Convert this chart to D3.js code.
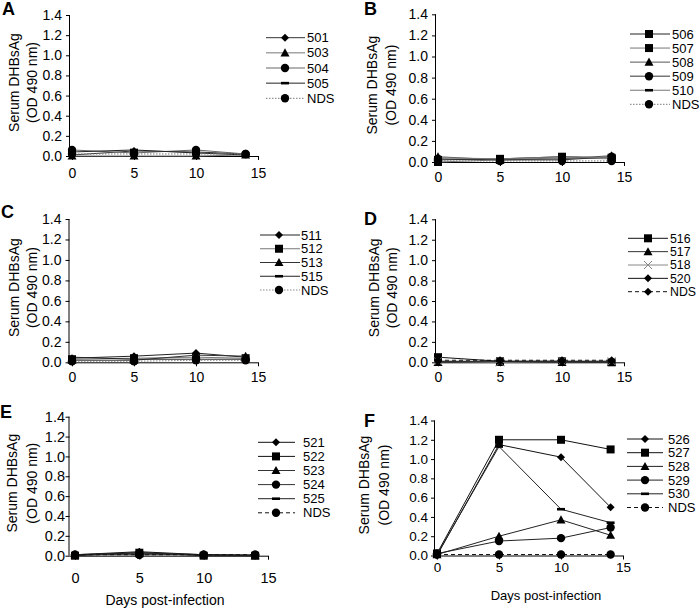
<!DOCTYPE html>
<html><head><meta charset="utf-8">
<script src="https://cdn.jsdelivr.net/npm/d3@7"></script>
<style>body{margin:0;background:#fff}svg{display:block;font-family:"Liberation Sans",Arial,sans-serif}</style>
</head><body><svg id="c" width="700" height="608"></svg>
<script>
// ---------- data ----------
const days = [0, 5, 10, 14];
const xTicks = [0, 5, 10, 15];
const yTicks = [0, 0.2, 0.4, 0.6, 0.8, 1.0, 1.2, 1.4];
const yTitle = ["Serum DHBsAg", "(OD 490 nm)"];
const xTitle = "Days post-infection";

const namesA = ["501", "503", "504", "505", "NDS"];
const valuesA = [[0.01, 0.05, 0.04, 0.02], [0.00, 0.00, 0.00, 0.01], [0.06, 0.03, 0.06, 0.02], [0.04, 0.06, 0.03, 0.01], [0.02, 0.02, 0.02, 0.02]];
const namesB = ["506", "507", "508", "509", "510", "NDS"];
const valuesB = [[0.02, 0.03, 0.05, 0.04], [0.00, 0.02, 0.04, 0.03], [0.05, 0.02, 0.03, 0.06], [0.03, 0.02, 0.02, 0.05], [0.04, 0.03, 0.05, 0.04], [0.01, 0.01, 0.01, 0.01]];
const namesC = ["511", "512", "513", "515", "NDS"];
const valuesC = [[0.04, 0.06, 0.09, 0.05], [0.03, 0.04, 0.05, 0.04], [0.02, 0.02, 0.07, 0.06], [0.05, 0.03, 0.03, 0.03], [0.01, 0.01, 0.02, 0.02]];
const namesD = ["516", "517", "518", "520", "NDS"];
const valuesD = [[0.05, 0.01, 0.01, 0.00], [0.00, 0.00, 0.00, 0.00], [0.01, 0.00, 0.01, 0.01], [0.01, 0.01, 0.01, 0.01], [0.02, 0.02, 0.02, 0.02]];
const namesE = ["521", "522", "523", "524", "525", "NDS"];
const valuesE = [[0.01, 0.04, 0.01, 0.00], [0.00, 0.03, 0.00, 0.00], [0.01, 0.02, 0.01, 0.00], [0.01, 0.01, 0.01, 0.01], [0.01, 0.03, 0.01, 0.00], [0.01, 0.01, 0.01, 0.01]];
const namesF = ["526", "527", "528", "529", "530", "NDS"];
const valuesF = [[0.00, 1.15, 1.02, 0.50], [0.02, 1.20, 1.20, 1.10], [0.01, 0.20, 0.37, 0.21], [0.02, 0.15, 0.18, 0.29], [0.01, 1.13, 0.48, 0.34], [0.01, 0.01, 0.01, 0.01]];

// ---------- styles ----------
const markersA = ["diamond", "triangle", "circle", "dash", "circle"];
const markersB = ["square", "square", "triangle", "circle", "dash", "circle"];
const markersC = ["diamond", "square", "triangle", "dash", "circle"];
const markersD = ["square", "triangle", "cross", "diamond", "diamond"];
const markersE = ["diamond", "square", "triangle", "circle", "dash", "circle"];
const markersF = ["diamond", "square", "triangle", "circle", "dash", "circle"];
const colorsA = ["#333", "#777", "#666", "#222", "#777"];
const colorsB = ["#222", "#777", "#555", "#333", "#777", "#777"];
const colorsC = ["#222", "#777", "#333", "#222", "#888"];
const colorsD = ["#111", "#333", "#888", "#111", "#111"];
const colorsE = ["#111", "#111", "#333", "#333", "#222", "#111"];
const colorsF = ["#111", "#111", "#222", "#222", "#222", "#111"];

const panels = [
  {letter: "A", names: namesA, values: valuesA, markers: markersA, colors: colorsA, nds: "dot",
   ax: 70, x0: 72, x1: 258, yT: 15, yB: 156, lx: 2, ly: 15, c1: 14, c2: 32, yGap: 8, xOff: 17, fs: 14,
   lg: {x1: 266, x2: 305, mx: 285, tx: 307, y0: 37.7, dy: 15.15, fs: 13}},
  {letter: "B", names: namesB, values: valuesB, markers: markersB, colors: colorsB, nds: "dot",
   ax: 436, x0: 438, x1: 624, yT: 14.3, yB: 162, lx: 364, ly: 15, c1: 372, c2: 391, yGap: 8, xOff: 14.7, fs: 14,
   lg: {x1: 630, x2: 670, mx: 649, tx: 672, y0: 34, dy: 14.06, fs: 13}},
  {letter: "C", names: namesC, values: valuesC, markers: markersC, colors: colorsC, nds: "dot",
   ax: 69.5, x0: 72, x1: 258, yT: 219, yB: 362.3, lx: 1, ly: 218, c1: 14, c2: 32, yGap: 8, xOff: 14.4, fs: 14,
   lg: {x1: 260, x2: 300, mx: 279, tx: 301, y0: 235, dy: 13.75, fs: 13}},
  {letter: "D", names: namesD, values: valuesD, markers: markersD, colors: colorsD, nds: "dash",
   ax: 436, x0: 438, x1: 624, yT: 219.3, yB: 362.3, lx: 364, ly: 225, c1: 374, c2: 392, yGap: 8, xOff: 14.4, fs: 14,
   lg: {x1: 628, x2: 668, mx: 648, tx: 670, y0: 238.3, dy: 13.35, fs: 12.3}},
  {letter: "E", names: namesE, values: valuesE, markers: markersE, colors: colorsE, nds: "dash",
   ax: 69.5, x0: 75, x1: 268, yT: 416.7, yB: 555.7, lx: 0, ly: 418, c1: 12.5, c2: 32.5, yGap: 4.5, xOff: 21.6, fs: 14.5,
   lg: {x1: 258, x2: 295, mx: 276, tx: 303, y0: 442.3, dy: 14.1, fs: 13}, xt: {x: 165, y: 600}},
  {letter: "F", names: namesF, values: valuesF, markers: markersF, colors: colorsF, nds: "dash",
   ax: 435, x0: 437, x1: 623, yT: 420.5, yB: 555.5, lx: 364, ly: 427, c1: 364, c2: 384, yGap: 7, xOff: 11.5, fs: 13.5,
   lg: {x1: 627, x2: 663, mx: 645, tx: 668, y0: 439, dy: 13.7, fs: 13}, xt: {x: 546, y: 595}}
];

const svg = d3.select("#c");

function drawMarker(g, type, x, y, color) {
  const fill = "#000";
  if (type === "diamond") {
    const r = 4;
    g.append("path").attr("d", `M${x},${y - r}L${x + r},${y}L${x},${y + r}L${x - r},${y}Z`).attr("fill", fill);
  } else if (type === "square") {
    const s = 8;
    g.append("rect").attr("x", x - s / 2).attr("y", y - s / 2).attr("width", s).attr("height", s).attr("fill", fill);
  } else if (type === "triangle") {
    const r = 4.5;
    g.append("path").attr("d", `M${x},${y - r}L${x + r},${y + r * 0.8}L${x - r},${y + r * 0.8}Z`).attr("fill", fill);
  } else if (type === "circle") {
    g.append("circle").attr("cx", x).attr("cy", y).attr("r", 4.2).attr("fill", fill);
  } else if (type === "dash") {
    g.append("rect").attr("x", x - 4).attr("y", y - 1.3).attr("width", 8).attr("height", 2.6).attr("fill", fill);
  } else if (type === "cross") {
    const r = 4;
    g.append("path").attr("d", `M${x - r},${y - r}L${x + r},${y + r}M${x - r},${y + r}L${x + r},${y - r}`)
      .attr("stroke", "#888").attr("stroke-width", 1).attr("fill", "none");
  }
}

panels.forEach(p => {
  const g = svg.append("g");
  const x = d3.scaleLinear().domain([0, 15]).range([p.x0, p.x1]);
  const y = d3.scaleLinear().domain([0, 1.4]).range([p.yB, p.yT]);

  g.append("text").attr("x", p.lx).attr("y", p.ly).attr("font-size", 18).attr("font-weight", "bold").text(p.letter);

  const ya = g.append("g").attr("transform", `translate(${p.ax},0)`)
    .call(d3.axisLeft(y).tickValues(yTicks).tickFormat(d3.format(".1f")).tickSize(4).tickPadding(p.yGap - 4));
  ya.select(".domain").attr("d", `M-0.5,${p.yT}V${p.yB}`);
  const xa = g.append("g").attr("transform", `translate(0,${p.yB})`)
    .call(d3.axisBottom(x).tickValues(xTicks).tickSize(4).tickPadding(p.xOff - 9));
  xa.select(".domain").attr("d", `M${p.ax},0.5H${x(15)}`);
  [ya, xa].forEach(a => {
    a.selectAll("text").attr("font-size", p.fs).attr("font-family", "Liberation Sans, Arial, sans-serif").attr("fill", "#000");
    a.selectAll("line,path").attr("stroke", "#000");
  });

  const yc = (p.yT + p.yB) / 2 - 3;
  [p.c1, p.c2].forEach((cx, i) => {
    g.append("text").attr("transform", `translate(${cx},${yc}) rotate(-90)`)
      .attr("text-anchor", "middle").attr("dy", "0.35em").attr("font-size", 14).text(yTitle[i]);
  });
  if (p.xt) {
    g.append("text").attr("x", p.xt.x).attr("y", p.xt.y).attr("text-anchor", "middle").attr("dy", "0.35em")
      .attr("font-size", p.letter === "E" ? 14 : 13).text(xTitle);
  }

  const line = d3.line().x((d, i) => x(days[i])).y(d => y(d));
  p.values.forEach((vals, si) => {
    const isNDS = p.names[si] === "NDS";
    const dash = isNDS ? (p.nds === "dot" ? "1.5,1.5" : "4,3") : null;
    const sg = g.append("g");
    sg.append("path").attr("d", line(vals)).attr("fill", "none")
      .attr("stroke", p.colors[si]).attr("stroke-width", 1).attr("stroke-dasharray", dash);
    vals.forEach((v, i) => drawMarker(sg, p.markers[si], x(days[i]), y(v), p.colors[si]));

    const ly = p.lg.y0 + si * p.lg.dy;
    sg.append("line").attr("x1", p.lg.x1).attr("x2", p.lg.x2).attr("y1", ly).attr("y2", ly)
      .attr("stroke", p.colors[si]).attr("stroke-width", 1).attr("stroke-dasharray", dash);
    drawMarker(sg, p.markers[si], p.lg.mx, ly, p.colors[si]);
    sg.append("text").attr("x", p.lg.tx).attr("y", ly).attr("dy", "0.35em").attr("font-size", p.lg.fs).text(p.names[si]);
  });
});
</script></body></html>
